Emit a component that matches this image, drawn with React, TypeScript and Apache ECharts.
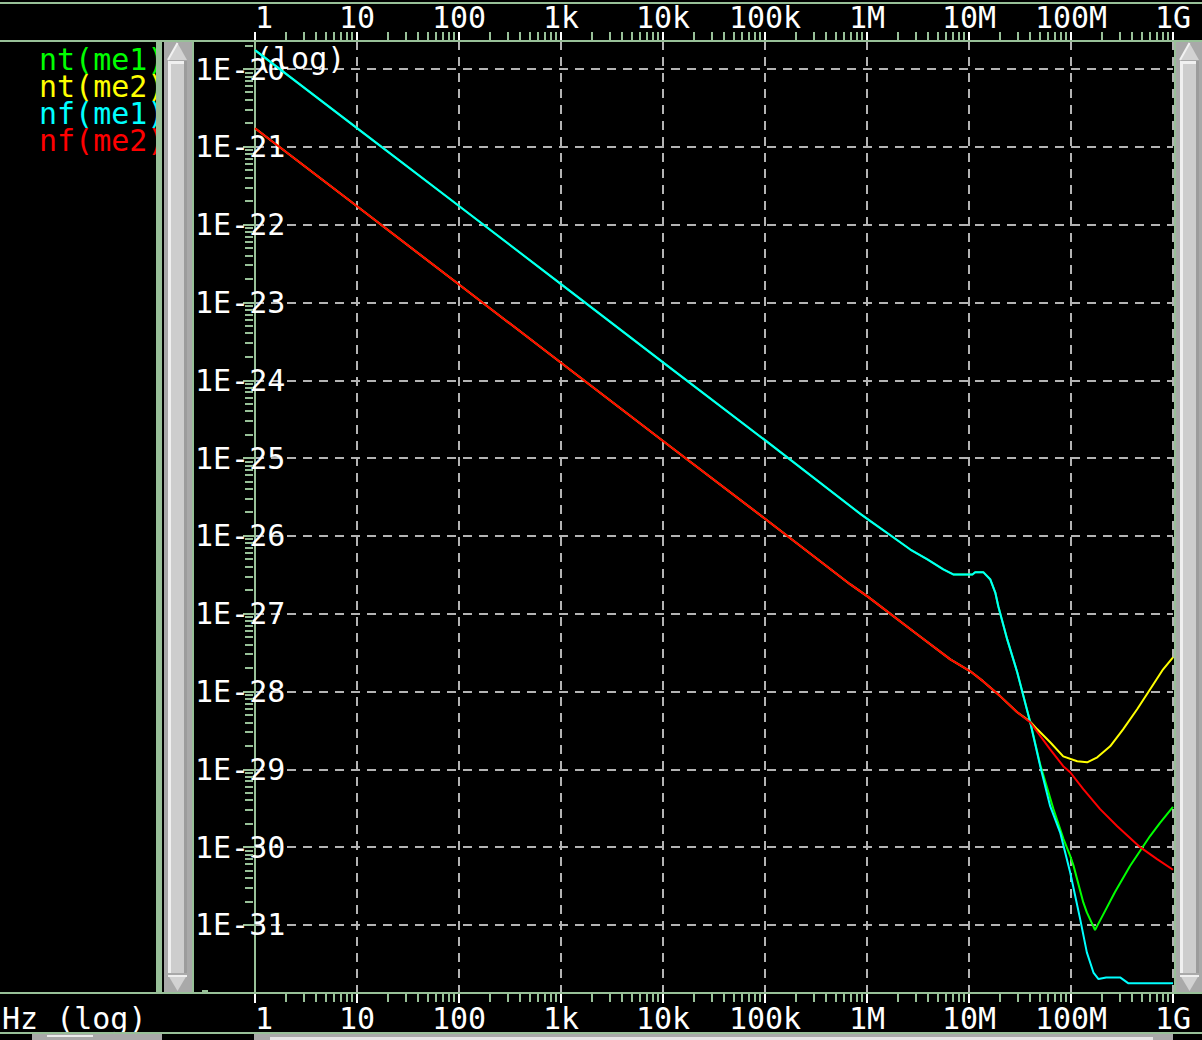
import React, { useEffect, useRef } from 'react';
import * as echarts from 'echarts';

const MONO = "'DejaVu Sans Mono', 'Liberation Mono', monospace";
const SAGE = '#98c098';
const GRID_GRAY = '#b4b4b4';
const FONT_SIZE = 30;

// ---- series identity ----
const seriesNames = ['nt(me1)', 'nt(me2)', 'nf(me1)', 'nf(me2)'];
const seriesColors = ['#00ff00', '#ffff00', '#00ffff', '#ff0000'];

// ---- tick labels ----
const xTickLabels = ['1', '10', '100', '1k', '10k', '100k', '1M', '10M', '100M', '1G'];
const yTickExponents = [-20, -21, -22, -23, -24, -25, -26, -27, -28, -29, -30, -31];

// ---- axis extents (log10 units) ----
const X_MIN = 0; // 1 Hz
const X_MAX = 9; // 1 GHz
const Y_MAX = -19.64;
const Y_MIN = -31.874;

// ---- nt(me1) : Hz, V^2/Hz ----
const ntMe1Freq = [1, 10, 100, 1e3, 1e4, 1e5, 8.6e5, 1.08e6, 1.82e6, 2.66e6, 3.91e6, 5.6e6, 7.0e6, 1.08e7, 1.15e7, 1.38e7, 1.62e7, 1.81e7, 1.94e7, 2.37e7, 2.97e7, 3.98e7, 4.99e7, 6.73e7, 8.45e7, 9.82e7, 1.06e8, 1.32e8, 1.43e8, 1.72e8, 2.06e8, 2.70e8, 3.79e8, 4.97e8, 5.96e8, 7.46e8, 1e9];
const ntMe1Val = [1.75e-20, 1.74e-21, 1.74e-22, 1.72e-23, 1.70e-24, 1.70e-25, 1.92e-26, 1.55e-26, 9.55e-27, 6.68e-27, 4.98e-27, 3.71e-27, 3.2e-27, 3.2e-27, 3.42e-27, 3.42e-27, 2.75e-27, 1.87e-27, 1.24e-27, 4.68e-28, 1.77e-28, 4.1e-29, 1.15e-29, 3.08e-30, 1.27e-30, 7.74e-31, 5.75e-31, 1.95e-31, 1.45e-31, 8.63e-32, 1.35e-31, 2.65e-31, 5.73e-31, 9.77e-31, 1.39e-30, 2.05e-30, 3.29e-30];

// ---- nt(me2) ----
const ntMe2Freq = [1, 10, 100, 1e3, 1e4, 1e5, 6.87e5, 1.01e6, 3.12e6, 6.56e6, 1.03e7, 1.38e7, 2.03e7, 2.97e7, 3.98e7, 4.67e7, 6.25e7, 8.39e7, 1.15e8, 1.44e8, 1.81e8, 2.42e8, 3.24e8, 4.45e8, 5.97e8, 8.0e8, 1e9];
const ntMe2Val = [1.73e-21, 1.72e-22, 1.70e-23, 1.68e-24, 1.66e-25, 1.66e-26, 2.38e-27, 1.67e-27, 5.42e-28, 2.59e-28, 1.82e-28, 1.35e-28, 8.67e-29, 5.41e-29, 4.1e-29, 3.27e-29, 2.23e-29, 1.47e-29, 1.27e-29, 1.23e-29, 1.43e-29, 1.98e-29, 3.27e-29, 5.92e-29, 1.07e-28, 1.93e-28, 2.75e-28];

// ---- nf(me1) ----
const nfMe1Freq = [1, 10, 100, 1e3, 1e4, 1e5, 8.6e5, 1.08e6, 1.82e6, 2.66e6, 3.91e6, 5.6e6, 7.0e6, 1.08e7, 1.15e7, 1.38e7, 1.62e7, 1.81e7, 1.94e7, 2.37e7, 2.97e7, 3.98e7, 4.99e7, 6.25e7, 7.83e7, 9.82e7, 1.23e8, 1.43e8, 1.66e8, 1.86e8, 2.21e8, 3.03e8, 3.63e8, 1e9];
const nfMe1Val = [1.75e-20, 1.74e-21, 1.74e-22, 1.72e-23, 1.70e-24, 1.70e-25, 1.92e-26, 1.55e-26, 9.55e-27, 6.68e-27, 4.98e-27, 3.71e-27, 3.2e-27, 3.2e-27, 3.42e-27, 3.42e-27, 2.75e-27, 1.87e-27, 1.24e-27, 4.68e-28, 1.77e-28, 4.03e-29, 1.10e-29, 3.36e-30, 1.54e-30, 4.73e-31, 1.19e-31, 4.45e-32, 2.45e-32, 2.02e-32, 2.12e-32, 2.12e-32, 1.79e-32, 1.79e-32];

// ---- nf(me2) ----
const nfMe2Freq = [1, 10, 100, 1e3, 1e4, 1e5, 6.87e5, 1.01e6, 3.12e6, 6.56e6, 1.03e7, 1.38e7, 2.03e7, 2.97e7, 3.98e7, 6.25e7, 8.39e7, 9.82e7, 1.32e8, 1.93e8, 2.84e8, 4.76e8, 6.98e8, 1e9];
const nfMe2Val = [1.73e-21, 1.72e-22, 1.70e-23, 1.68e-24, 1.66e-25, 1.66e-26, 2.38e-27, 1.67e-27, 5.42e-28, 2.59e-28, 1.82e-28, 1.35e-28, 8.67e-29, 5.41e-29, 4.03e-29, 1.81e-29, 1.10e-29, 9.18e-30, 5.56e-30, 3.08e-30, 1.86e-30, 1.0e-30, 7.02e-31, 5.13e-31];

const seriesFreqs = [ntMe1Freq, ntMe2Freq, nfMe1Freq, nfMe2Freq];
const seriesVals = [ntMe1Val, ntMe2Val, nfMe1Val, nfMe2Val];

// minor (log 2..9) tick positions, in log10 units
const minorSteps = [2, 3, 4, 5, 6, 7, 8, 9];
const xMinorTicks: number[] = [];
for (let d = 0; d < 9; d++) minorSteps.forEach((k) => xMinorTicks.push(d + Math.log10(k)));
const yMinorTicks: number[] = [];
for (let e = -31; e < -20; e++) minorSteps.forEach((k) => yMinorTicks.push(e + Math.log10(k)));
yMinorTicks.push(-20 + Math.log10(2));

function vScroll(x0: number, w: number, withGreenLeft: boolean, greenRightX: number | null) {
  const cx = x0 + 13.5;
  const il = x0 + 4;
  const ir = x0 + 23;
  const els: any[] = [];
  if (withGreenLeft) els.push({ type: 'rect', shape: { x: 156, y: 42, width: 6, height: 951 }, style: { fill: SAGE } });
  if (greenRightX != null) els.push({ type: 'rect', shape: { x: greenRightX, y: 42, width: 2, height: 951 }, style: { fill: SAGE } });
  els.push(
    { type: 'rect', shape: { x: x0, y: 42, width: w, height: 950 }, style: { fill: '#a9a9a9' } },
    { type: 'polygon', shape: { points: [[cx, 43], [il, 60], [ir, 60]] }, style: { fill: '#d2d2d2' } },
    { type: 'line', shape: { x1: cx, y1: 43, x2: il, y2: 60 }, style: { stroke: '#f2f2f2', lineWidth: 2 } },
    { type: 'rect', shape: { x: il, y: 61, width: ir - il, height: 912 }, style: { fill: '#cdcdcd' } },
    { type: 'rect', shape: { x: il, y: 61, width: ir - il, height: 3 }, style: { fill: '#f0f0f0' } },
    { type: 'rect', shape: { x: il, y: 61, width: 3, height: 912 }, style: { fill: '#f0f0f0' } },
    { type: 'rect', shape: { x: ir - 3, y: 61, width: 3, height: 912 }, style: { fill: '#9c9c9c' } },
    { type: 'polygon', shape: { points: [[il, 975], [ir, 975], [cx, 991]] }, style: { fill: '#d2d2d2' } },
    { type: 'rect', shape: { x: il, y: 975, width: ir - il, height: 2 }, style: { fill: '#f0f0f0' } },
  );
  return els;
}

function buildOption() {
  const labelFont = { fontFamily: MONO, fontSize: FONT_SIZE, color: '#ffffff' };

  const lineSeries = seriesNames.map((name, i) => ({
    name,
    type: 'line',
    data: seriesFreqs[i].map((f, j) => [Math.log10(f), Math.log10(seriesVals[i][j])]),
    showSymbol: false,
    symbol: 'none',
    smooth: false,
    clip: true,
    silent: true,
    lineStyle: { color: seriesColors[i], width: 2 },
    itemStyle: { color: seriesColors[i] },
    emphasis: { disabled: true },
    z: 3,
  }));

  const xMinorSeries = {
    type: 'custom',
    silent: true,
    clip: false,
    z: 4,
    data: xMinorTicks.map((v) => [v, Y_MIN]),
    encode: { x: 0, y: 1 },
    renderItem: (_p: any, api: any) => {
      const v = api.value(0);
      const pt = api.coord([v, Y_MAX]);
      const pb = api.coord([v, Y_MIN]);
      const x = Math.round(pt[0]);
      return {
        type: 'group',
        children: [
          { type: 'rect', shape: { x: x - 1, y: Math.round(pt[1]) - 9, width: 2, height: 8 }, style: { fill: SAGE } },
          { type: 'rect', shape: { x: x - 1, y: Math.round(pb[1]) + 1, width: 2, height: 8 }, style: { fill: SAGE } },
        ],
      };
    },
  };

  const yMinorSeries = {
    type: 'custom',
    silent: true,
    clip: false,
    z: 4,
    data: yMinorTicks.map((v) => [X_MIN, v]),
    encode: { x: 0, y: 1 },
    renderItem: (_p: any, api: any) => {
      const p = api.coord([X_MIN, api.value(1)]);
      const y = Math.round(p[1]);
      return { type: 'rect', shape: { x: Math.round(p[0]) - 10, y: y - 1, width: 8, height: 2 }, style: { fill: SAGE } };
    },
  };

  const xLabelFmt = (v: number) => {
    const r = Math.round(v);
    return Math.abs(v - r) < 1e-6 && xTickLabels[r] != null ? xTickLabels[r] : '';
  };
  const yLabelFmt = (v: number) => {
    const r = Math.round(v);
    return Math.abs(v - r) < 1e-6 && yTickExponents.indexOf(r) >= 0 ? `1E${r}` : '';
  };

  const graphics: any[] = [
    // frame lines
    { type: 'rect', shape: { x: 0, y: 2, width: 1202, height: 2 }, style: { fill: SAGE } },
    { type: 'rect', shape: { x: 0, y: 40, width: 1202, height: 2 }, style: { fill: SAGE } },
    { type: 'rect', shape: { x: 0, y: 992, width: 1202, height: 2 }, style: { fill: SAGE } },
    { type: 'rect', shape: { x: 0, y: 1032, width: 1202, height: 2 }, style: { fill: SAGE } },
    // left & right vertical scrollbars
    ...vScroll(164, 28, true, 192),
    ...vScroll(1176, 26, false, 1174),
    { type: 'rect', shape: { x: 202, y: 990, width: 6, height: 2 }, style: { fill: SAGE } },
    // bottom horizontal scrollbars
    { type: 'rect', shape: { x: 32, y: 1034, width: 130, height: 6 }, style: { fill: '#a9a9a9' } },
    { type: 'rect', shape: { x: 47, y: 1035, width: 46, height: 2 }, style: { fill: '#ececec' } },
    { type: 'rect', shape: { x: 254, y: 1034, width: 919, height: 6 }, style: { fill: '#a9a9a9' } },
    { type: 'rect', shape: { x: 270, y: 1037, width: 883, height: 3 }, style: { fill: '#e6e6e6' } },
  ].map((g) => ({ ...g, silent: true, z: 100 }));

  return {
    animation: false,
    backgroundColor: '#000000',
    textStyle: { fontFamily: MONO },
    tooltip: { show: false },
    grid: { left: 255, right: 29, top: 41, bottom: 47, containLabel: false, outerBoundsMode: 'none' },
    legend: {
      orient: 'vertical',
      left: 34,
      top: 44,
      padding: 0,
      itemGap: -3,
      itemWidth: 0,
      itemHeight: 0,
      icon: 'none',
      selectedMode: false,
      textStyle: { fontFamily: MONO, fontSize: FONT_SIZE },
      data: seriesNames.map((n, i) => ({ name: n, textStyle: { color: seriesColors[i] } })),
      z: 10,
    },
    xAxis: [
      {
        type: 'value',
        position: 'bottom',
        min: X_MIN,
        max: X_MAX,
        interval: 1,
        name: 'Hz (log)',
        nameLocation: 'start',
        nameGap: 253,
        nameMoveOverlap: false,
        nameTextStyle: { ...labelFont, align: 'left', verticalAlign: 'top', lineHeight: 50 },
        axisLine: { show: true, onZero: false, lineStyle: { color: SAGE, width: 2 } },
        axisTick: { show: true, length: 10, lineStyle: { color: '#ffffff', width: 2 } },
        axisLabel: { ...labelFont, margin: 25, verticalAlign: 'middle', formatter: xLabelFmt, alignMinLabel: 'left' },
        splitLine: { show: true, showMinLine: false, showMaxLine: true, lineStyle: { color: GRID_GRAY, width: 2, type: [9, 7] } },
      },
      {
        type: 'value',
        position: 'top',
        min: X_MIN,
        max: X_MAX,
        interval: 1,
        axisLine: { show: true, onZero: false, lineStyle: { color: SAGE, width: 2 } },
        axisTick: { show: true, length: 9, lineStyle: { color: '#ffffff', width: 2 } },
        axisLabel: { ...labelFont, margin: 24, verticalAlign: 'middle', formatter: xLabelFmt, alignMinLabel: 'left' },
        splitLine: { show: false },
      },
    ],
    yAxis: {
      type: 'value',
      min: Y_MIN,
      max: Y_MAX,
      splitNumber: 12,
      minInterval: 1,
      maxInterval: 1,
      name: '(log)',
      nameLocation: 'end',
      nameGap: -17,
      nameMoveOverlap: false,
      nameTextStyle: { ...labelFont, align: 'left', verticalAlign: 'middle' },
      axisLine: { show: true, onZero: false, lineStyle: { color: SAGE, width: 2 } },
      axisTick: { show: true, length: 12, lineStyle: { color: SAGE, width: 2 } },
      axisLabel: { ...labelFont, margin: 60, align: 'left', verticalAlign: 'middle', padding: [4, 0, 0, 0], showMinLabel: false, showMaxLabel: false, formatter: yLabelFmt },
      splitLine: { show: true, showMinLine: false, showMaxLine: false, lineStyle: { color: GRID_GRAY, width: 2, type: [9, 7] } },
    },
    series: [...lineSeries, xMinorSeries, yMinorSeries],
    graphic: graphics,
  };
}

export default function App() {
  const ref = useRef<HTMLDivElement>(null);
  useEffect(() => {
    document.body.style.margin = '0';
    document.body.style.background = '#000000';
    document.documentElement.style.overflow = 'hidden';
    if (!ref.current) return;
    const chart = echarts.init(ref.current, undefined, { renderer: 'svg', width: 1202, height: 1040 });
    chart.setOption(buildOption() as any);
    return () => chart.dispose();
  }, []);
  return <div ref={ref} style={{ width: 1202, height: 1040, background: '#000000' }} />;
}
